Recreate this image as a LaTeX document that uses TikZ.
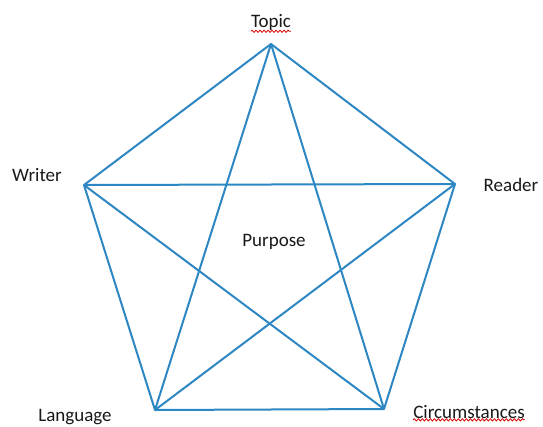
\documentclass[tikz,border=0pt]{standalone}
\usepackage{fontspec}
\setmainfont{Carlito}
\usetikzlibrary{decorations.pathmorphing}
\definecolor{edgeblue}{RGB}{45,135,195}
\definecolor{txt}{RGB}{25,25,25}
\begin{document}
\begin{tikzpicture}[x=1pt,y=-1pt,
  vtx/.style={inner sep=0pt,minimum size=0pt},
  lbl/.style={font=\fontsize{19}{21}\selectfont,text=txt,inner sep=0pt},
  edge/.style={draw=edgeblue,line width=2pt,line join=round},
  squiggle/.style={draw=red!85!black,line width=0.8pt,decorate,decoration={snake,amplitude=1.1pt,segment length=4pt}}]
\useasboundingbox (0,0) rectangle (543,426);
\fill[white] (0,0) rectangle (543,426);
% vertices
\coordinate (T) at (271,44);
\coordinate (W) at (84,185);
\coordinate (R) at (455,184);
\coordinate (L) at (155,410);
\coordinate (C) at (384,409);
% edges
\draw[edge] (T) -- (R) -- (C) -- (L) -- (W) -- cycle;
\draw[edge] (T) -- (L);
\draw[edge] (T) -- (C);
\draw[edge] (W) -- (R);
\draw[edge] (W) -- (C);
\draw[edge] (R) -- (L);
% labels
\node[lbl] (tl) at (271,22) {Topic};
\node[lbl] (wl) at (37,175) {Writer};
\node[lbl] (rl) at (511,185) {Reader};
\node[lbl] (ll) at (75,417) {Language};
\node[lbl] (cl) at (469,412) {Circumstances};
\node[lbl] (pl) at (274,242) {Purpose};
% spell-check underlines
\draw[squiggle] ([yshift=-1pt]tl.south west) -- ([yshift=-1pt]tl.south east);
\draw[squiggle] ([yshift=-1pt]cl.south west) -- ([yshift=-1pt]cl.south east);
\end{tikzpicture}
\end{document}
